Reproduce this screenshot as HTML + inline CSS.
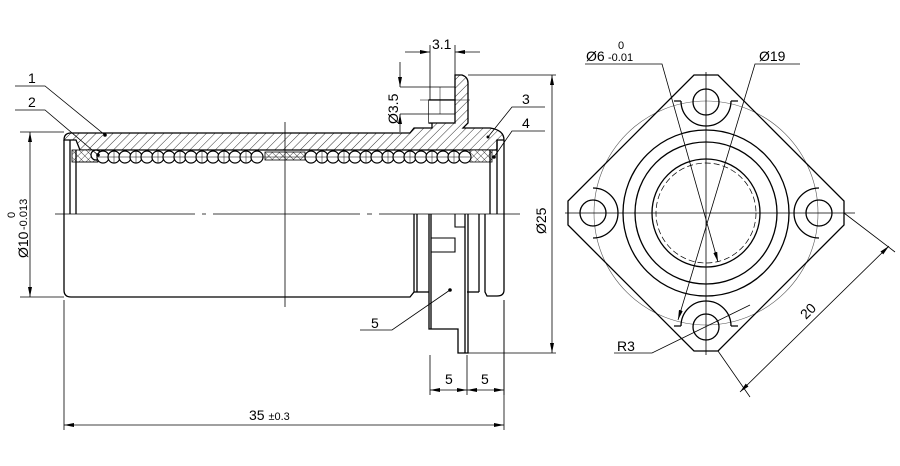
<!DOCTYPE html>
<html><head><meta charset="utf-8"><style>
html,body{margin:0;padding:0;background:#fff;}
svg{display:block;}
text{font-family:"Liberation Sans",sans-serif;fill:#000;}
</style></head><body>
<svg width="900" height="466" viewBox="0 0 900 466" xmlns="http://www.w3.org/2000/svg">
<defs>
<pattern id="h" width="6" height="6" patternUnits="userSpaceOnUse" patternTransform="rotate(45)">
<rect width="6" height="6" fill="#fff"/><line x1="0" y1="0" x2="0" y2="6" stroke="#000" stroke-width="0.8"/></pattern>
<pattern id="x" width="5" height="5" patternUnits="userSpaceOnUse" patternTransform="rotate(45)">
<rect width="5" height="5" fill="#fff"/><line x1="0" y1="0" x2="0" y2="5" stroke="#000" stroke-width="0.7"/><line x1="0" y1="0" x2="5" y2="0" stroke="#000" stroke-width="0.7"/></pattern>
<marker id="a" viewBox="0 0 10 4" refX="10" refY="2" markerWidth="10" markerHeight="4" orient="auto-start-reverse" markerUnits="userSpaceOnUse"><path d="M0,0 L10,2 L0,4 Z" fill="#000"/></marker>
</defs>

<g fill="none" stroke="#000" stroke-width="1.3">
<path d="M64,140 Q64,133 71,133 L410,133 L414,128 L432,128 L432,123 L429,123 L429,100 L455,100 L455,75 L462,75 Q468,77 468,83 L468,123 L463,128 L490,128 Q504,130 504,140 L497,140 L497,150 L80,150 L76,140 Z" fill="url(#h)"/>
<path d="M429,100 L455,100 L455,123 L429,123" fill="#fff"/>
<rect x="72" y="150" width="26" height="12" fill="url(#x)" stroke-width="0.8"/>
<rect x="265" y="152" width="40" height="8" fill="url(#x)" stroke-width="0.8"/>
<rect x="470" y="150" width="22" height="12" fill="url(#x)" stroke-width="0.8"/>
<path d="M64,140 L64,290 Q64,297 71,297 L410,297 L414,292 L414,214"/>
<line x1="417" y1="214" x2="417" y2="292"/>
<path d="M414,292 L429,292"/>
<line x1="70" y1="140" x2="70" y2="214"/>
<line x1="76" y1="150" x2="76" y2="214"/>
<line x1="76" y1="162" x2="98" y2="162" stroke-width="0.8"/>
<line x1="490" y1="150" x2="490" y2="214"/>
<line x1="497" y1="140" x2="497" y2="214"/>
<path d="M504,140 L504,290 Q504,296 497,296 L487,296 L485,292 L485,214"/>
<line x1="479" y1="214" x2="479" y2="292"/>
<path d="M467,292 L479,292"/>
<path d="M429,214 L429,329 L458,329 L458,353 L468,353 L468,214"/>
<line x1="431" y1="214" x2="431" y2="329"/>
<line x1="465" y1="214" x2="465" y2="353"/>
<path d="M431,238 L455,238 L455,252 L431,252" stroke-width="1.1"/>
<path d="M455,214 L455,227 L465,227" stroke-width="1.1"/>
</g>
<g fill="#fff" stroke="#000" stroke-width="1.2">
<circle cx="96" cy="155" r="5"/>
<circle cx="103" cy="157" r="6"/><circle cx="114" cy="157" r="6"/><circle cx="125" cy="157" r="6"/><circle cx="136" cy="157" r="6"/><circle cx="147" cy="157" r="6"/><circle cx="158" cy="157" r="6"/><circle cx="169" cy="157" r="6"/><circle cx="180" cy="157" r="6"/><circle cx="191" cy="157" r="6"/><circle cx="202" cy="157" r="6"/><circle cx="213" cy="157" r="6"/><circle cx="224" cy="157" r="6"/><circle cx="235" cy="157" r="6"/><circle cx="246" cy="157" r="6"/><circle cx="257" cy="157" r="6"/>
<circle cx="311" cy="157" r="6"/><circle cx="322" cy="157" r="6"/><circle cx="333" cy="157" r="6"/><circle cx="344" cy="157" r="6"/><circle cx="355" cy="157" r="6"/><circle cx="366" cy="157" r="6"/><circle cx="377" cy="157" r="6"/><circle cx="388" cy="157" r="6"/><circle cx="399" cy="157" r="6"/><circle cx="410" cy="157" r="6"/><circle cx="421" cy="157" r="6"/><circle cx="432" cy="157" r="6"/><circle cx="443" cy="157" r="6"/><circle cx="454" cy="157" r="6"/><circle cx="465" cy="157" r="6"/>
</g>
<path d="M98,157 H470 M114,151 V163 M136,151 V163 M158,151 V163 M180,151 V163 M202,151 V163 M224,151 V163 M246,151 V163 M322,151 V163 M344,151 V163 M366,151 V163 M388,151 V163 M410,151 V163 M432,151 V163 M454,151 V163" stroke="#000" stroke-width="0.5"/>

<g stroke="#000" stroke-width="0.8" fill="none">
<path d="M55,214 H195 M202,214 H206 M213,214 H360 M367,214 H372 M379,214 H520"/>
<path d="M285,122 V307"/>
<path d="M440,87 V114 M420,100 H470" stroke-width="0.5"/>
</g>

<g stroke="#000" stroke-width="0.8" fill="none">
<path d="M20,132 H64 M20,297 H64"/>
<line x1="30" y1="132" x2="30" y2="297" marker-start="url(#a)" marker-end="url(#a)"/>
<path d="M64,300 V430 M504,300 V430"/>
<line x1="64" y1="425" x2="504" y2="425" marker-start="url(#a)" marker-end="url(#a)"/>
<path d="M430,355 V395 M467,355 V395 M504,300 V395"/>
<line x1="430" y1="390" x2="467" y2="390" marker-start="url(#a)" marker-end="url(#a)"/>
<line x1="467" y1="390" x2="504" y2="390" marker-start="url(#a)" marker-end="url(#a)"/>
<path d="M468,75 H556 M468,353 H556"/>
<line x1="552" y1="75" x2="552" y2="353" marker-start="url(#a)" marker-end="url(#a)"/>
<path d="M430,45 V100 M455,45 V75"/>
<line x1="405" y1="52" x2="430" y2="52" marker-end="url(#a)"/>
<line x1="480" y1="52" x2="455" y2="52" marker-end="url(#a)"/>
<path d="M400,87 H455 M400,114 H455"/>
<line x1="400" y1="62" x2="400" y2="87" marker-end="url(#a)"/>
<line x1="400" y1="132" x2="400" y2="114" marker-end="url(#a)"/>
<path d="M15,86 H45 L105,135"/>
<path d="M15,110 H45 L98,155"/>
<path d="M545,107 H512 L488,137"/>
<path d="M545,131 H512 L494,157"/>
<path d="M360,330 H392 L450,290"/>
</g>
<g fill="#000"><circle cx="105" cy="135" r="1.8"/><circle cx="98" cy="155" r="1.8"/><circle cx="488" cy="137" r="1.5"/><circle cx="494" cy="157" r="1.8"/><circle cx="450" cy="290" r="1.8"/></g>

<g font-size="14">
<text x="28" y="83">1</text>
<text x="28" y="107">2</text>
<text x="522" y="104">3</text>
<text x="522" y="128">4</text>
<text x="371" y="328">5</text>
<text x="445" y="384">5</text>
<text x="481" y="384">5</text>
<text x="249" y="420">35 <tspan font-size="11">±0.3</tspan></text>
<text x="432" y="49">3.1</text>
<text transform="translate(398,124) rotate(-90)">Ø3.5</text>
<text transform="translate(546,234) rotate(-90)">Ø25</text>
<text transform="translate(28,258) rotate(-90)">Ø10</text>
<text transform="translate(15,218) rotate(-90)" font-size="11">0</text>
<text transform="translate(27,230) rotate(-90)" font-size="11">-0.013</text>
</g>

<g fill="none" stroke="#000" stroke-width="1.3">
<circle cx="706" cy="213" r="112" stroke-width="0.6" stroke="#555"/>
<path d="M694,75 L718,75 L844,201 L844,225 L718,351 L694,351 L568,225 L568,201 Z"/>
<circle cx="706" cy="213" r="83"/>
<circle cx="706" cy="213" r="71"/>
<circle cx="706" cy="213" r="54"/>
<circle cx="706" cy="213" r="50" stroke-width="0.7" stroke-dasharray="6,3"/>
<circle cx="706" cy="102" r="13"/><circle cx="706" cy="327" r="13"/>
<circle cx="593" cy="213" r="13"/><circle cx="819" cy="213" r="13"/>
<path d="M681,101 A25,25 0 0 0 731,101 M681,101 H674 M731,101 H738" />
<path d="M681,326 A25,25 0 0 1 731,326 M681,326 H674 M731,326 H738"/>
<path d="M593,188 A25,25 0 0 1 593,238"/>
<path d="M819,188 A25,25 0 0 0 819,238"/>
</g>
<g stroke="#000" stroke-width="0.8" fill="none">
<path d="M706,72 V355 M565,213 H855"/>
<path d="M585,64 H662 L718,262" marker-end="url(#a)"/>
<path d="M800,64 H755 L678,320" marker-end="url(#a)"/>
<path d="M614,353 H652 L750,305"/>
<path d="M844,213 L895,252 M718,351 L750,397"/>
<line x1="889" y1="246" x2="740" y2="392" marker-start="url(#a)" marker-end="url(#a)"/>
</g>
<g font-size="14">
<text x="586" y="61">Ø6</text>
<text x="618" y="49" font-size="11">0</text>
<text x="608" y="61" font-size="11">-0.01</text>
<text x="759" y="61">Ø19</text>
<text x="617" y="351">R3</text>
<text transform="translate(806,320) rotate(-45)">20</text>
</g>
</svg>
</body></html>
